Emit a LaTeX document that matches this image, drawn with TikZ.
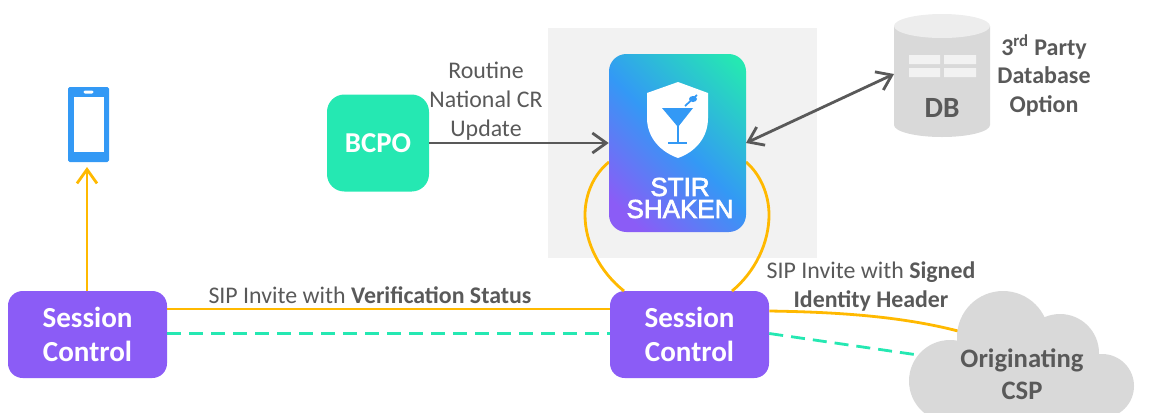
\documentclass[tikz,border=0pt]{standalone}
\usepackage{fontspec}
\setmainfont{Carlito}
\newfontfamily\logofont[FakeBold=2.5]{Liberation Sans}
\usetikzlibrary{arrows.meta,calc}
\definecolor{txtgrey}{HTML}{595959}
\definecolor{purp}{HTML}{8B5CF6}
\definecolor{mint}{HTML}{25E8B2}
\definecolor{skyb}{HTML}{3399F5}
\definecolor{amber}{HTML}{FFB900}
\definecolor{panel}{HTML}{F2F2F2}
\definecolor{dbgrey}{HTML}{D9D9D9}
\definecolor{dbtop}{HTML}{EDEDED}
\pgfdeclarehorizontalshading{stirgrad}{100bp}{color(0bp)=(purp); color(22bp)=(purp); color(50bp)=(skyb); color(82bp)=(mint); color(100bp)=(mint)}
\def\pxu{0.75pt}
\tikzset{
  x=0.75pt,y=-0.75pt,
  sessionbox/.style={fill=purp,rounded corners=11pt,minimum width=159*\pxu,minimum height=87*\pxu,inner sep=0pt,text=white,align=center,font=\fontsize{21.8}{25.5}\selectfont\bfseries},
  greytext/.style={text=txtgrey,align=center,inner sep=0pt,font=\fontsize{17.9}{21.5}\selectfont},
  greybold/.style={text=txtgrey,align=center,inner sep=0pt,font=\fontsize{20}{24}\selectfont\bfseries},
  graytip/.style={line width=2.1pt,draw=txtgrey},
  amberline/.style={line width=2.1pt,draw=amber},
  mintdash/.style={line width=2.1pt,draw=mint,dash pattern=on 10.5pt off 6pt},
  opentip/.tip={Straight Barb[length=10.5pt,width=15pt,line width=2.1pt]},
  logotext/.style={text=white,inner sep=0pt,align=center,font=\fontsize{19.5}{16.5}\selectfont\logofont},
}
\begin{document}
\begin{tikzpicture}
\useasboundingbox (0,0) rectangle (1159,412);
\clip (0,0) rectangle (1159,412);
% panel
\fill[panel] (548,28) rectangle (817,258);
% main nodes
\node[sessionbox] (sone) at (87.5,334.5) {Session\\Control};
\node[sessionbox] (stwo) at (689.5,334.5) {Session\\Control};
\coordinate (loopa) at (609,162);
\coordinate (loopb) at (585,215);
\coordinate (loopc) at (624,291);
\coordinate (loopd) at (746,162);
\coordinate (loope) at (769,215);
\coordinate (loopf) at (732,291);
\draw[amberline] (loopa) .. controls (594,174) and (585,194) .. (loopb) .. controls (585,243) and (600,272) .. (loopc);
\draw[amberline] (loopd) .. controls (760,174) and (769,194) .. (loope) .. controls (769,243) and (755,272) .. (loopf);
\node[draw=none,rounded corners=13pt,shade,shading=stirgrad,shading angle=45,minimum width=137*\pxu,minimum height=178*\pxu,inner sep=0pt] (stir) at (677.5,143) {};
% shield icon
\fill[white] (678,82) -- (708,93) -- (708,118) .. controls (708,138) and (695,152) .. (678,158) .. controls (661,152) and (647,138) .. (647,118) -- (647,93) -- cycle;
\fill[skyb] (662,108) -- (693,108) -- (678,127) -- cycle;
\draw[skyb,line width=1pt] (678,125) -- (678,142);
\fill[skyb] (668,141.5) rectangle (687,144);
\draw[skyb,line width=1.3pt] (685,106) -- (697,95);
\fill[skyb] (693,99) ellipse (4 and 3);
\node[logotext] (stirword) at (680,198) {STIR\\SHAKEN};
% bcpo
\node[fill=mint,rounded corners=13pt,minimum width=102*\pxu,minimum height=97*\pxu,inner sep=0pt,text=white,font=\fontsize{21.6}{25}\selectfont\bfseries] (bcpo) at (378,143) {BCPO};
% db
\fill[dbgrey] (894,26) -- (894,125) arc[start angle=180,end angle=0,x radius=48,y radius=12] -- (990,26) -- cycle;
\fill[dbtop] (942,26) ellipse (48 and 12);
\fill[panel] (909,55) rectangle (940,64) (944,55) rectangle (976,64) (909,68) rectangle (940,77) (944,68) rectangle (976,77);
\node[text=txtgrey,inner sep=0pt,font=\fontsize{22}{25}\selectfont\bfseries] (dblabel) at (942,108) {DB};
\coordinate (dbedge) at (894,74);
\coordinate (stiredge) at (746,143);
\node[text=txtgrey,align=center,inner sep=0pt,font=\fontsize{18}{21.5}\selectfont\bfseries] (third) at (1044,75.5) {3\textsuperscript{rd} Party\\Database\\Option};
% phone
\node[fill=skyb,rounded corners=1.2pt,minimum width=41*\pxu,minimum height=75*\pxu,inner sep=0pt] (phone) at (88.5,124.5) {};
\fill[white] (73.5,97) rectangle (103.5,151.5);
\fill[white,rounded corners=1pt] (83.5,90.5) rectangle (93.5,93.5);
% connectors
\coordinate (phonetip) at (87,167);
\coordinate (sonetop) at (87,291);
\draw[amberline,-{opentip}] (sonetop) -- (phonetip);
\draw[amberline] ($(sone.east)+(0,-25.5)$) -- ($(stwo.west)+(0,-25.5)$);
\draw[mintdash] ($(sone.east)+(0,-1)$) -- ($(stwo.west)+(0,-1)$);
\draw[graytip,-{opentip}] (bcpo.east) -- (stir.west);
\draw[graytip,{opentip}-{opentip}] (stiredge) -- (dbedge);
% cloud connectors
\coordinate (cloudup) at (958,331);
\coordinate (clouddown) at (925,356);
\draw[amberline] ($(stwo.east)+(0,-23.5)$) .. controls (835,312) and (900,316) .. (cloudup);
\draw[mintdash] ($(stwo.east)+(0,-1)$) -- (clouddown);
% cloud
\fill[dbgrey] (950,381) circle (41) (1003,337) circle (46) (1060,353) circle (39) (1102,386) circle (32) (1010,400) circle (50) (1060,400) circle (40);
\node[greybold] (cloud) at (1022,374) {Originating\\CSP};
% labels
\node[greytext] (routine) at (486,101) {Routine\\National CR\\Update};
\node[greytext] (verif) at (370,295) {SIP Invite with \textbf{Verification Status}};
\node[greytext] (signed) at (871,286.5) {SIP Invite with \textbf{Signed}\\\textbf{Identity Header}};
\end{tikzpicture}
\end{document}
